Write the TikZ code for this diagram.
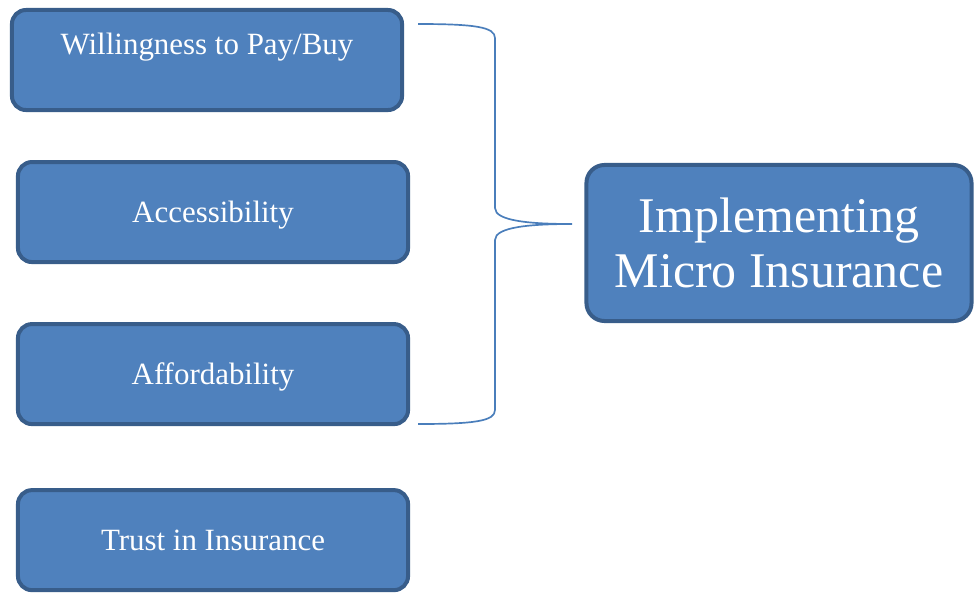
\documentclass[tikz,border=0pt]{standalone}
\usepackage{fontspec}
\setmainfont{Liberation Serif}
\usetikzlibrary{positioning}

\definecolor{boxfill}{HTML}{4F81BD}
\definecolor{boxline}{HTML}{385D8A}
\definecolor{braceline}{HTML}{4A7EBB}

\begin{document}
\begin{tikzpicture}[
    x=0.025cm, y=-0.025cm,
    factor/.style={rectangle, rounded corners=0.35cm, draw=boxline, fill=boxfill, line width=0.1cm,
        minimum width=9.75cm, minimum height=2.5cm, inner sep=0pt, outer sep=0pt,
        text=white, align=center, font=\fontsize{22}{26}\selectfont},
    goal/.style={factor, minimum width=9.625cm, minimum height=3.9cm, rounded corners=0.45cm,
        font=\fontsize{35.5}{39}\selectfont},
    brace/.style={draw=braceline, line width=1.2pt}
]
    \useasboundingbox (0,0) rectangle (975,594);

    % Factors
    \node[factor, text height=1.1cm, text depth=1.4cm, minimum height=0pt] (will) at (207,60) {Willingness to Pay/Buy};
    \node[factor, below=1.3cm of will, xshift=0.15cm, text depth=0pt] (access) {Accessibility};
    \node[factor, below=1.55cm of access, text depth=0pt] (afford) {Affordability};
    \node[factor, below=1.65cm of afford, text depth=0pt] (trust) {Trust in Insurance};

    % Goal
    \node[goal] (impl) at (779,243) {Implementing\\Micro Insurance};

    % Brace
    \coordinate (brace-top) at (418,24);
    \coordinate (brace-bot) at (418,424);
    \coordinate (brace-tip) at (572,224);
    \draw[brace] (brace-top) .. controls (475,24) and (495,27) .. (495,38) -- (495,208)
        .. controls (495,221) and (530,224) .. (brace-tip)
        .. controls (530,224) and (495,227) .. (495,240) -- (495,410)
        .. controls (495,421) and (475,424) .. (brace-bot);
\end{tikzpicture}
\end{document}
